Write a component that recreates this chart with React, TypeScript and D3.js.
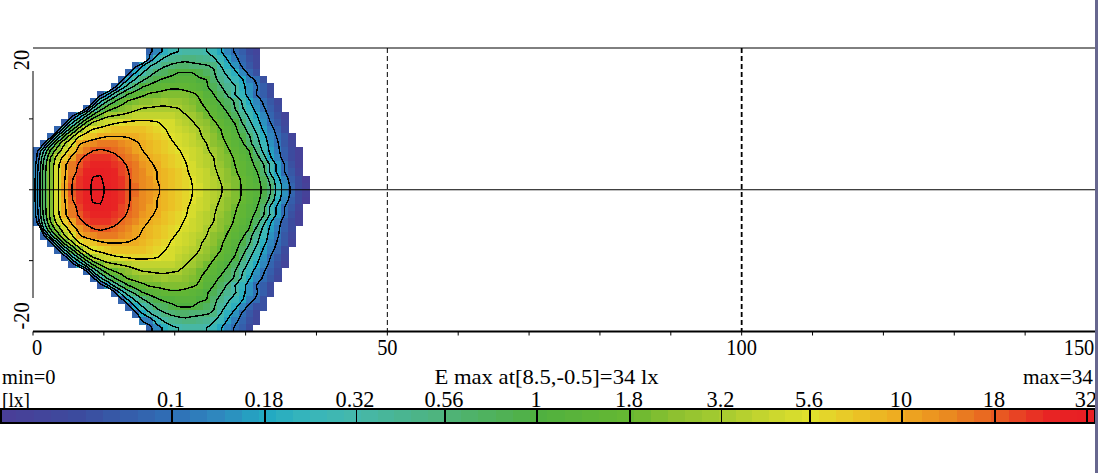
import React from "react";
import * as d3 from "d3";

// Illuminance bands: label of each band boundary, in lx (index = band level)
const barLabels = ["0.1", "0.18", "0.32", "0.56", "1", "1.8", "3.2", "5.6", "10", "18", "32"];
const barLevels = d3.range(barLabels.length);
const barTickPx = [172, 265, 356, 445, 537, 630, 721.5, 810, 902, 995, 1087];
const thinBarTicks = ["0.32", "3.2"];
const barMinLevel = -1.86;
const barMaxLevel = 10.08;
const barStepCount = 64;

// Colour ramp
const rampLevels = [-1.86, -1, 0, 0.5, 1, 1.5, 2, 3, 4, 5, 5.5, 6, 6.5, 7, 7.5, 8, 8.5, 9, 9.3, 9.6, 10.2];
const rampColors = ["#4b3d97", "#3c4b9e", "#2f6fb6", "#2f88be", "#22a9c2", "#38b6bb", "#45b8ab", "#4fb37a", "#50b040", "#66b832", "#8ec130", "#a6cb30", "#c6d52f", "#e0e02c", "#ebc426", "#eeaa20", "#ea8a20", "#e85e22", "#e83c24", "#e82424", "#e81c24"];

// Upper half of the lit area; rows are |y| = 0.5, 1.5 ... 19.5, each starts at its topStart column.
const topStart = [0, 0, 0, 0, 0, 0, 1, 2, 3, 4, 5, 7, 8, 9, 11, 12, 13, 14, 16, 16];
const topEnd = [39, 39, 38, 38, 38, 38, 37, 37, 36, 36, 36, 35, 35, 34, 34, 33, 32, 32, 32, 32];
const bottomStart = [0, 0, 0, 0, 0, 1, 1, 2, 3, 4, 5, 7, 8, 9, 11, 12, 13, 14, 15, 16];
const bottomEnd = [39, 39, 38, 38, 38, 37, 37, 37, 36, 36, 36, 35, 35, 34, 34, 33, 33, 32, 32, 31];

const levelRow00 = [0.6, 3.4, 5.4, 6.9, 8.1, 9, 9.4, 9.8, 10.1, 10.1, 9.9, 9.7, 9.4, 9.05, 8.8, 8.55, 8.3, 8.1, 7.8, 7.65, 7.45, 7.25, 7, 6.75, 6.5, 6.3, 6.05, 5.7, 5.35, 4.95, 4.6, 4.3, 3.85, 3, 1.6, 0.6, -0.2, -1, -1.6];
const levelRow01 = [0.6, 3.4, 5.4, 6.9, 8, 8.95, 9.35, 9.75, 10.05, 10.05, 9.85, 9.65, 9.35, 9.05, 8.75, 8.5, 8.25, 8, 7.8, 7.6, 7.4, 7.2, 6.95, 6.7, 6.45, 6.2, 5.95, 5.6, 5.25, 4.9, 4.55, 4.25, 3.7, 2.7, 1.3, 0.4, -0.4, -1.1, -1.7];
const levelRow02 = [0.5, 3.4, 5.4, 6.9, 7.9, 8.7, 9.2, 9.6, 9.9, 9.95, 9.8, 9.55, 9.3, 9, 8.7, 8.45, 8.2, 8, 7.75, 7.55, 7.35, 7.1, 6.85, 6.6, 6.35, 6.15, 5.8, 5.45, 5.1, 4.75, 4.45, 4.1, 3.3, 1.8, 0.8, 0, -0.7, -1.4];
const levelRow03 = [0.4, 3.2, 5.4, 6.8, 7.9, 8.6, 9.1, 9.4, 9.6, 9.7, 9.6, 9.45, 9.2, 8.9, 8.6, 8.35, 8.1, 7.9, 7.65, 7.45, 7.2, 7.05, 6.8, 6.5, 6.25, 6.05, 5.7, 5.35, 5, 4.7, 4.4, 3.8, 3.1, 1.9, 0.8, 0, -0.8, -1.5];
const levelRow04 = [-0.1, 2.8, 5.1, 6.5, 7.4, 8.2, 8.8, 9.2, 9.4, 9.45, 9.4, 9.25, 8.95, 8.7, 8.45, 8.2, 7.95, 7.75, 7.55, 7.35, 7.15, 6.95, 6.7, 6.4, 6.2, 6, 5.6, 5.3, 4.9, 4.6, 4.2, 3.5, 2.4, 1.1, 0.4, -0.4, -1, -1.6];
const levelRow05 = [-0.3, 2, 4.2, 5.6, 6.6, 7.6, 8.25, 8.7, 9, 9.1, 9, 8.85, 8.6, 8.45, 8.2, 8, 7.8, 7.6, 7.45, 7.2, 7.05, 6.85, 6.6, 6.35, 6.1, 5.8, 5.45, 5.1, 4.75, 4.35, 4, 2.9, 1.8, 0.8, 0.2, -0.5, -1.1, -1.6];
const levelRow06 = [-0.2, 2.5, 4.5, 6, 6.9, 7.9, 8.25, 8.5, 8.65, 8.7, 8.65, 8.45, 8.3, 8.1, 7.9, 7.7, 7.5, 7.3, 7.1, 6.9, 6.7, 6.5, 6.2, 6, 5.6, 5.3, 4.9, 4.6, 4.2, 3.3, 2.5, 1.5, 0.7, 0.1, -0.6, -1.3];
const levelRow07 = [-0.3, 2.2, 4.4, 5.8, 7, 7.4, 7.6, 7.85, 8, 8, 8, 7.95, 7.85, 7.75, 7.55, 7.35, 7.2, 6.95, 6.75, 6.55, 6.35, 6.1, 5.8, 5.5, 5.1, 4.75, 4.4, 3.8, 3.1, 2.2, 1.3, 0.5, -0.1, -0.7, -1.4];
const levelRow08 = [-0.3, 2, 3.8, 5.5, 6.6, 7.05, 7.2, 7.4, 7.5, 7.6, 7.65, 7.6, 7.5, 7.35, 7.2, 7.05, 6.85, 6.65, 6.45, 6.2, 6, 5.7, 5.35, 5, 4.6, 4.2, 3.5, 2.6, 1.8, 0.9, 0.3, -0.3, -1];
const levelRow09 = [-0.4, 1.8, 3.3, 5, 6.1, 6.5, 6.7, 6.9, 7, 7.1, 7.2, 7.2, 7.15, 7.05, 6.85, 6.75, 6.5, 6.3, 6.05, 5.75, 5.45, 5.1, 4.75, 4.3, 3.95, 3, 2.2, 1.4, 0.6, 0, -0.6, -1.3];
const levelRow10 = [-0.4, 1.2, 2.8, 4.2, 5.2, 5.8, 5.95, 6.1, 6.25, 6.4, 6.5, 6.5, 6.5, 6.45, 6.35, 6.2, 6.05, 5.8, 5.5, 5.2, 4.8, 4.45, 4.1, 3.5, 2.6, 1.8, 1.1, 0.4, -0.2, -0.8, -1.4];
const levelRow11 = [-0.2, 2.2, 3.5, 4.5, 5, 5.3, 5.5, 5.8, 6, 6.05, 6.1, 6.1, 6.05, 6, 5.75, 5.5, 5.2, 4.95, 4.6, 4.25, 3.7, 3, 2.1, 1.4, 0.7, 0.1, -0.4, -1.1];
const levelRow12 = [-0.3, 1.8, 3, 3.9, 4.6, 5.1, 5.3, 5.5, 5.6, 5.7, 5.8, 5.75, 5.65, 5.5, 5.3, 5.05, 4.65, 4.3, 3.85, 3.4, 2.9, 1.9, 1.1, 0.4, -0.1, -0.6, -1.2];
const levelRow13 = [-0.5, 0.8, 2.3, 3.3, 4, 4.5, 4.8, 5.1, 5.2, 5.3, 5.4, 5.35, 5.25, 5.1, 4.9, 4.4, 4, 3.5, 2.85, 2, 1.4, 0.6, 0, -0.4, -1.1];
const levelRow14 = [-0.2, 1.5, 2.6, 3.3, 4, 4.3, 4.5, 4.7, 4.85, 4.85, 4.75, 4.6, 4.35, 4.1, 3.6, 3.1, 2.5, 2.1, 1.3, 0.6, 0.1, -0.4, -1.1];
const levelRow15 = [-0.2, 1.2, 2.2, 2.9, 3.45, 3.9, 4.15, 4.25, 4.35, 4.35, 4.3, 4.1, 4, 3.25, 2.7, 2.2, 1.55, 1.1, 0.3, -0.1, -0.9];
const levelRow16 = [-0.3, 1.1, 2, 2.6, 3.2, 3.5, 3.8, 4, 4.05, 4, 3.8, 3.5, 3.1, 2.4, 1.7, 1.2, 0.5, -0.2, -0.8];
const levelRow17 = [-0.3, 1, 1.9, 2.4, 2.9, 3.1, 3.2, 3.2, 3.1, 3.1, 3.05, 2.9, 2, 1.3, 0.7, -0.1, -0.6, -1.2];
const levelRow18 = [0.3, 1.5, 2.1, 2.6, 2.75, 2.85, 2.85, 2.7, 2.5, 2.1, 1.5, 0.9, 0.2, -0.3, -0.8, -1.3];
const levelRow19 = [-0.2, 0.5, 1.2, 1.7, 2, 2.1, 2.1, 2.1, 2, 1.6, 1.05, 0.5, -0.1, -0.5, -1, -1.4];
const levelRows = [levelRow00, levelRow01, levelRow02, levelRow03, levelRow04, levelRow05, levelRow06, levelRow07, levelRow08, levelRow09, levelRow10, levelRow11, levelRow12, levelRow13, levelRow14, levelRow15, levelRow16, levelRow17, levelRow18, levelRow19];

const xTickLabels = [0, 50, 100, 150];
const xMinorTicks = d3.range(0, 151, 10);
const yMinorTicks = [10, -10];
const gridColumns = 39;
const OUTSIDE = -2.5;

const W = 1098;
const H = 473;
const FONT = "'Liberation Serif', 'Times New Roman', serif";

const xScale = d3.scaleLinear().domain([0, 150]).range([33, 1096]);
const yScale = d3.scaleLinear().domain([20, -20]).range([48, 331.5]);
const barScale = d3.scaleLinear().domain(barLevels).range(barTickPx);
const ramp = d3.scaleLinear<string>().domain(rampLevels).range(rampColors).clamp(true);

const stepSize = (barMaxLevel - barMinLevel) / barStepCount;
const stepOf = (l: number) => Math.max(0, Math.min(barStepCount - 1, Math.floor((l - barMinLevel) / stepSize)));
const stepColor = (i: number) => ramp(barMinLevel + (i + 0.5) * stepSize);

type Cell = { col: number; yTop: number; level: number };

function levelAt(rowIndex: number, col: number) {
  const row = levelRows[rowIndex];
  const k = Math.max(0, Math.min(row.length - 1, col - topStart[rowIndex]));
  return row[k];
}

// rows from y=+19.5 down to y=-19.5
const signedRows = [
  ...d3.range(19, -1, -1).map((i) => ({ i, yTop: i + 1, start: topStart[i], end: topEnd[i] })),
  ...d3.range(0, 20).map((i) => ({ i, yTop: -i, start: bottomStart[i], end: bottomEnd[i] })),
];

const cells: Cell[] = signedRows.flatMap((r) =>
  d3.range(r.start, r.end).map((col) => ({ col, yTop: r.yTop, level: levelAt(r.i, col) }))
);

// Grid for d3.contours, with one padding column on the left and a repeated row at top and bottom,
// so that lines leave the plot at y=+-20 instead of closing along it.
const gridRow = (r: (typeof signedRows)[number]) => [
  OUTSIDE,
  ...d3.range(0, gridColumns).map((col) => (col >= r.start && col < r.end ? levelAt(r.i, col) : OUTSIDE)),
];
const gridRows = signedRows.map(gridRow);
const fullGrid = [gridRows[0], ...gridRows, gridRows[gridRows.length - 1]];
const gridW = gridColumns + 1;
const gridH = fullGrid.length;
const contourShapes = d3.contours().size([gridW, gridH]).thresholds(barLevels)(fullGrid.flat());
const contourPath = d3.geoPath(
  d3.geoTransform({
    point(x: number, y: number) {
      (this as any).stream.point(xScale(x - 1), yScale(20 - (y - 1)));
    },
  })
);

function Label(p: { x: number; y: number; size: number; sx: number; anchor?: string; rotate?: number; children: React.ReactNode }) {
  const t = p.rotate ? `translate(${p.x},${p.y}) rotate(${p.rotate}) scale(${p.sx},1)` : `translate(${p.x},${p.y}) scale(${p.sx},1)`;
  return (
    <text transform={t} fontSize={p.size} fontFamily={FONT} textAnchor={p.anchor ?? "middle"} fill="#000">
      {p.children}
    </text>
  );
}

export default function App() {
  const x0 = xScale(0);
  const xEnd = 1095;
  const y0 = yScale(0);
  const yT = yScale(20);
  const yB = yScale(-20);
  const barTop = 410;
  const barBottom = 422;
  return (
    <svg width={W} height={H} viewBox={`0 0 ${W} ${H}`} style={{ position: "absolute", left: 0, top: 0, display: "block", background: "#fff" }}>
      <defs>
        <clipPath id="plot">
          <rect x={x0} y={yT} width={xEnd - x0} height={yB - yT} />
        </clipPath>
      </defs>

      <g shapeRendering="crispEdges">
        {cells.map((c, i) => (
          <rect key={i} x={xScale(c.col)} y={yScale(c.yTop)} width={xScale(c.col + 1) - xScale(c.col) + 0.5} height={yScale(c.yTop - 1) - yScale(c.yTop) + 0.5} fill={stepColor(stepOf(c.level))} />
        ))}
      </g>

      <g clipPath="url(#plot)" fill="none" stroke="#000" strokeWidth={1.4} shapeRendering="crispEdges">
        {contourShapes.map((s, i) => (
          <path key={i} d={contourPath(s as any) ?? ""} />
        ))}
      </g>

      <g stroke="#000" fill="none">
        <line x1={x0} x2={xEnd} y1={yT} y2={yT} strokeWidth={1} />
        <line x1={x0 - 4} x2={xEnd} y1={y0} y2={y0} strokeWidth={1} />
        <line x1={x0} x2={xEnd} y1={yB} y2={yB} strokeWidth={2} />
        <line x1={x0} x2={x0} y1={71} y2={298} strokeWidth={1} />
        <line x1={xScale(50)} x2={xScale(50)} y1={yT} y2={yB} strokeWidth={1} strokeDasharray="5 3" />
        <line x1={xScale(100)} x2={xScale(100)} y1={yT} y2={yB} strokeWidth={1.8} strokeDasharray="5 3" />
        {xMinorTicks.map((t) => (
          <line key={t} x1={xScale(t)} x2={xScale(t)} y1={yB} y2={yB + 4} strokeWidth={1} />
        ))}
        {yMinorTicks.map((t) => (
          <line key={t} x1={x0 - 4} x2={x0} y1={yScale(t)} y2={yScale(t)} strokeWidth={1} />
        ))}
      </g>

      {xTickLabels.map((t) => (
        <Label key={t} x={Math.min(xScale(t) + (t === 0 ? 4 : 0), 1079)} y={355} size={24} sx={0.85}>
          {t}
        </Label>
      ))}
      <Label x={29} y={60} size={24} sx={0.85} rotate={-90}>
        20
      </Label>
      <Label x={29} y={316} size={24} sx={0.85} rotate={-90}>
        -20
      </Label>

      <Label x={2} y={384} size={22} sx={0.93} anchor="start">
        min=0
      </Label>
      <Label x={546.5} y={384} size={22} sx={1.03}>
        E max at[8.5,-0.5]=34 lx
      </Label>
      <Label x={1093} y={384} size={22} sx={0.97} anchor="end">
        max=34
      </Label>
      <Label x={2} y={407} size={22} sx={0.88} anchor="start">
        [lx]
      </Label>
      {barLabels.map((l, i) => (
        <Label key={l} x={barScale(i) - 1} y={407} size={23} sx={0.97}>
          {l}
        </Label>
      ))}

      <g shapeRendering="crispEdges">
        {d3.range(barStepCount).map((i) => {
          const a = barMinLevel + i * stepSize;
          const b = a + stepSize;
          return <rect key={i} x={barScale(a)} y={barTop} width={barScale(b) - barScale(a) + 0.5} height={barBottom - barTop} fill={stepColor(i)} />;
        })}
        <rect x={1} y={barTop - 1} width={1094} height={barBottom - barTop + 2} fill="none" stroke="#000" strokeWidth={2} />
        {barLabels.map((l, i) => (
          <line key={l} x1={barScale(i)} x2={barScale(i)} y1={barTop} y2={barBottom} stroke="#000" strokeWidth={thinBarTicks.includes(l) ? 1 : 2} />
        ))}
      </g>

      <rect x={1095} y={0} width={3} height={H} fill="#67678f" />
    </svg>
  );
}
